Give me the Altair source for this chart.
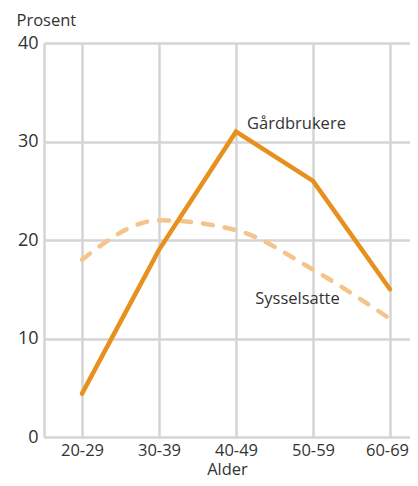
import altair as alt
import pandas as pd

categories = ["20-29", "30-39", "40-49", "50-59", "60-69"]
gardbrukere = [4.4, 19, 31, 26, 15]
sysselsatte = [18, 22, 21, 17, 12]
series_names = ["Gårdbrukere", "Sysselsatte"]

rows = []
for i, (c, g, s) in enumerate(zip(categories, gardbrukere, sysselsatte)):
    rows.append({"idx": i, "Alder": c, "Prosent": g, "Serie": series_names[0]})
    rows.append({"idx": i, "Alder": c, "Prosent": s, "Serie": series_names[1]})
df = pd.DataFrame(rows)

FONT = "Open Sans"
GRID = "#D4D4D4"
TXT = "#333333"

label_expr = "[" + ",".join("'%s'" % c for c in categories) + "][datum.value]"
last = len(categories) - 1

x_enc = alt.X("idx:Q",
              scale=alt.Scale(domain=[-0.4935, 4.26], nice=False, zero=False),
              axis=alt.Axis(title="Alder", values=list(range(len(categories))),
                            labelExpr=label_expr, labelAngle=0, grid=True, ticks=False,
                            domain=False, labelPadding=5, labelFontSize=16.5,
                            labelOffset={"condition": {"test": f"datum.value == {last}", "value": -3},
                                         "value": 0},
                            titleFontSize=16.5, titleFontWeight="normal",
                            titleBaseline="alphabetic", titleY=37))
y_enc = alt.Y("Prosent:Q", scale=alt.Scale(domain=[0, 40]),
              axis=alt.Axis(values=[0, 10, 20, 30, 40], title="Prosent", titleAngle=0,
                            titleAlign="left", titleX=-28, titleY=-18,
                            titleBaseline="alphabetic", titleFontSize=16.5,
                            titleFontWeight="normal", ticks=False, domain=True,
                            domainColor=GRID, domainWidth=2.5,
                            labelPadding=6, labelFontSize=18))

g_line = alt.Chart(df[df.Serie == series_names[0]]).mark_line(
    color="#E8901E", strokeWidth=4.5, strokeCap="round", strokeJoin="miter"
).encode(x=x_enc, y=y_enc)

s_line = alt.Chart(df[df.Serie == series_names[1]]).mark_line(
    color="#F5C48C", strokeWidth=4.5, strokeDash=[10, 12], strokeCap="round",
    interpolate="monotone"
).encode(x=x_enc, y=y_enc)

lab = pd.DataFrame({
    "idx": [2, 3],
    "Prosent": [31, 13.5],
    "Serie": series_names,
})

g_text = alt.Chart(lab.iloc[[0]]).mark_text(
    align="left", baseline="alphabetic", dx=11, dy=-3, fontSize=16.5, font=FONT, color=TXT
).encode(x="idx:Q", y="Prosent:Q", text="Serie:N")

s_text = alt.Chart(lab.iloc[[1]]).mark_text(
    align="center", baseline="alphabetic", dx=-15.5, dy=0, fontSize=16.5, font=FONT, color=TXT
).encode(x="idx:Q", y="Prosent:Q", text="Serie:N")

chart = alt.layer(s_line, g_line, g_text, s_text).properties(
    width=366, height=394,
    autosize=alt.AutoSizeParams(type="none"),
    padding={"left": 36, "top": 35, "right": 0, "bottom": 41},
).configure_view(stroke=None).configure_axis(
    gridColor=GRID, gridWidth=2.5, labelFont=FONT, titleFont=FONT,
    labelColor=TXT, titleColor=TXT
)

chart.save("out.html", embed_options={"renderer": "svg", "actions": False})
